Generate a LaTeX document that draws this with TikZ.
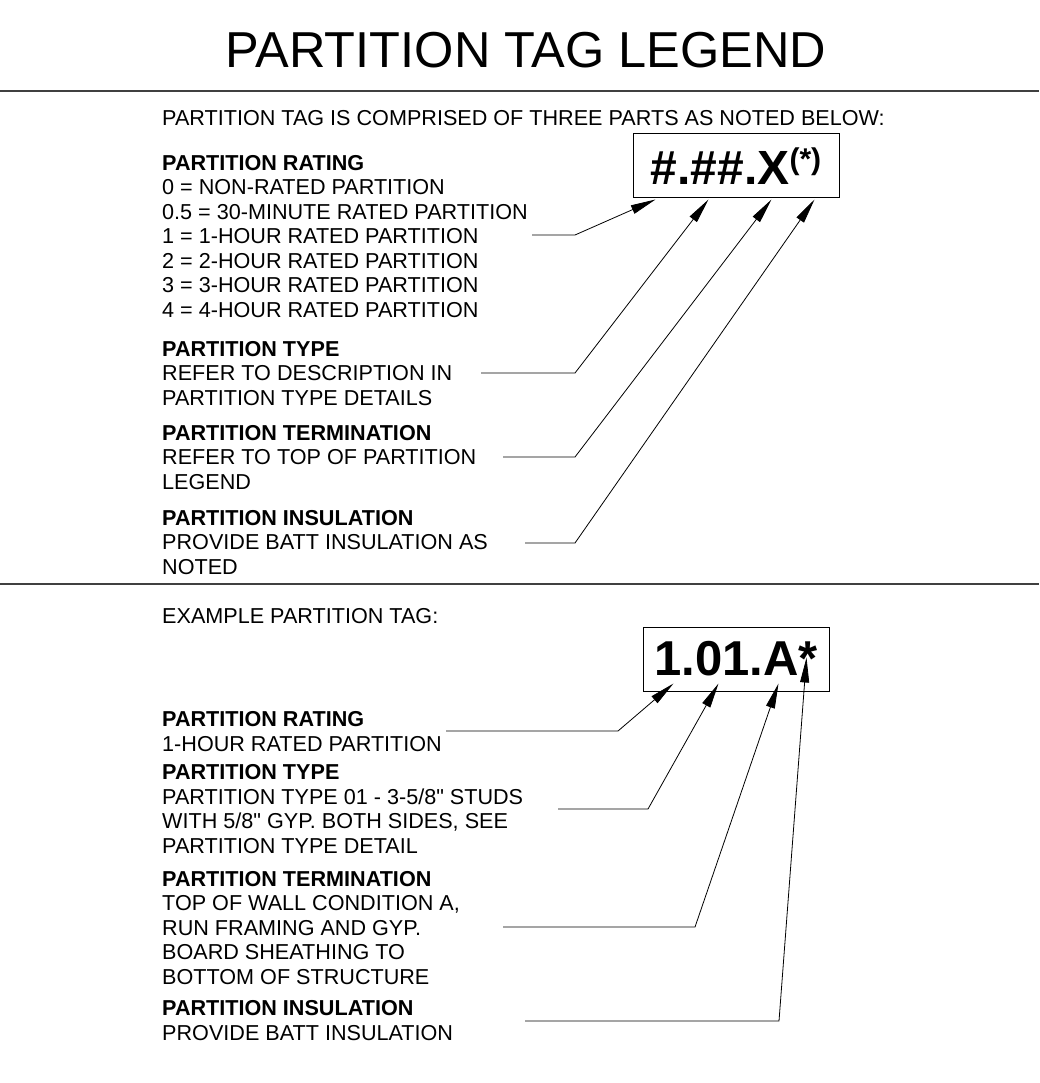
\documentclass[tikz,border=0pt]{standalone}
\usepackage{fontspec}
\setmainfont{Liberation Sans}
\usetikzlibrary{arrows.meta,calc}

\begin{document}
\begin{tikzpicture}[
    x=1pt, y=-1pt,
    legendtext/.style={
        anchor=base west,
        inner sep=0pt,
        align=left,
        font=\fontsize{21.6}{24.5}\selectfont
    },
    tagbox/.style={
        draw,
        line width=1pt,
        inner sep=0pt,
        minimum height=64pt
    },
    leaderline/.style={line width=0.8pt, -{Triangle[length=25pt,width=9pt]}},
    sepline/.style={line width=1.2pt, black!75}
]
\useasboundingbox (0,0) rectangle (1039,1083);

% title and separators
\node[anchor=base, inner sep=0pt, font=\fontsize{50.5}{60}\selectfont] (title) at (526,68) {PARTITION TAG LEGEND};
\draw[sepline] (0,91) -- (1039,91);
\draw[sepline] (0,584) -- (1039,584);

% general tag (multi-line nodes sit on their last baseline)
\node[legendtext] (intro) at (162,126) {PARTITION TAG IS COMPRISED OF THREE PARTS AS NOTED BELOW:};
\node[tagbox, minimum width=206pt] (tagA) at (736,166)
{\fontsize{48}{48}\selectfont\bfseries\#.\#\#.X{\fontsize{30}{30}\selectfont\raisebox{15pt}{(*)}}};

\node[legendtext] (ratingA) at (162,317)
{\textbf{PARTITION RATING}\\
0 = NON-RATED PARTITION\\
0.5 = 30-MINUTE RATED PARTITION\\
1 = 1-HOUR RATED PARTITION\\
2 = 2-HOUR RATED PARTITION\\
3 = 3-HOUR RATED PARTITION\\
4 = 4-HOUR RATED PARTITION};
\node[legendtext] (typeA) at (162,405)
{\textbf{PARTITION TYPE}\\
REFER TO DESCRIPTION IN\\
PARTITION TYPE DETAILS};
\node[legendtext] (termA) at (162,489)
{\textbf{PARTITION TERMINATION}\\
REFER TO TOP OF PARTITION\\
LEGEND};
\node[legendtext] (insulA) at (162,574)
{\textbf{PARTITION INSULATION}\\
PROVIDE BATT INSULATION AS\\
NOTED};

\coordinate (ratingA-s) at (532,235);
\coordinate (ratingA-k) at (575,235);
\coordinate (typeA-s) at (481,373);
\coordinate (typeA-k) at (575,373);
\coordinate (termA-s) at (503,457);
\coordinate (termA-k) at (575,457);
\coordinate (insulA-s) at (525,543);
\coordinate (insulA-k) at (575,543);

\draw[leaderline] (ratingA-s) -- (ratingA-k) -- ($(tagA.south west)+(23,1)$);
\draw[leaderline] (typeA-s) -- (typeA-k) -- ($(tagA.south west)+(76,1)$);
\draw[leaderline] (termA-s) -- (termA-k) -- ($(tagA.south west)+(139,1)$);
\draw[leaderline] (insulA-s) -- (insulA-k) -- ($(tagA.south west)+(182,1)$);

% example tag
\node[legendtext] (example) at (162,623) {EXAMPLE PARTITION TAG:};
\node[tagbox, minimum width=186pt] (tagB) at (736,659)
{\fontsize{49}{49}\selectfont\bfseries 1.01.A*};

\node[legendtext] (ratingB) at (162,751)
{\textbf{PARTITION RATING}\\
1-HOUR RATED PARTITION};
\node[legendtext] (typeB) at (162,853)
{\textbf{PARTITION TYPE}\\
PARTITION TYPE 01 - 3-5/8\textquotedbl{} STUDS\\
WITH 5/8\textquotedbl{} GYP. BOTH SIDES, SEE\\
PARTITION TYPE DETAIL};
\node[legendtext] (termB) at (162,984)
{\textbf{PARTITION TERMINATION}\\
TOP OF WALL CONDITION A,\\
RUN FRAMING AND GYP.\\
BOARD SHEATHING TO\\
BOTTOM OF STRUCTURE};
\node[legendtext] (insulB) at (162,1040)
{\textbf{PARTITION INSULATION}\\
PROVIDE BATT INSULATION};

\coordinate (ratingB-s) at (446,731);
\coordinate (ratingB-k) at (618,731);
\coordinate (typeB-s) at (558,809);
\coordinate (typeB-k) at (648,809);
\coordinate (termB-s) at (503,927);
\coordinate (termB-k) at (695,927);
\coordinate (insulB-s) at (525,1021);
\coordinate (insulB-k) at (779,1021);

\draw[leaderline] (ratingB-s) -- (ratingB-k) -- ($(tagB.south west)+(31,-8)$);
\draw[leaderline] (typeB-s) -- (typeB-k) -- ($(tagB.south west)+(76,-8)$);
\draw[leaderline] (termB-s) -- (termB-k) -- ($(tagB.south west)+(136,-8)$);
\draw[leaderline] (insulB-s) -- (insulB-k) -- ($(tagB.south west)+(164,-34)$);
\end{tikzpicture}
\end{document}
